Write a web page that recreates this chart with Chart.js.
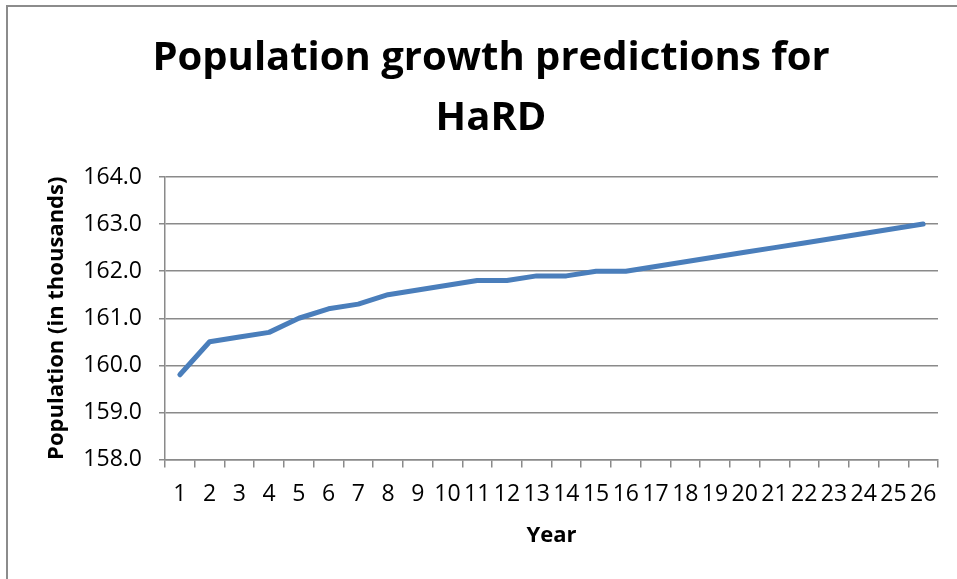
<!DOCTYPE html>
<html>
<head>
<meta charset="utf-8">
<script src="https://cdn.jsdelivr.net/npm/chart.js@4"></script>
<style>
  body { margin: 0; background: #fff; }
  .frame { position: absolute; left: 6px; top: 5px; width: 1000px; height: 700px;
           border-top: 2px solid #8c8c8c; border-left: 2px solid #8c8c8c; }
  .wrap { position: absolute; left: 0; top: 0; width: 957px; height: 579px; }
</style>
</head>
<body>
<div class="frame"></div>
<div class="wrap"><canvas id="popChart" width="957" height="579"></canvas></div>
<script>
// years 1..26
const years = ['1','2','3','4','5','6','7','8','9','10','11','12','13',
  '14','15','16','17','18','19','20','21','22','23','24','25','26'];
// population in thousands
const population = [159.8, 160.5, 160.6, 160.7, 161.0, 161.2, 161.3, 161.5, 161.6,
  161.7, 161.8, 161.8, 161.9, 161.9, 162.0, 162.0, 162.1, 162.2, 162.3, 162.4,
  162.5, 162.6, 162.7, 162.8, 162.9, 163.0];
const titleLines = ['Population growth predictions for', 'HaRD'];

const gridCol = '#8a8a8a';
const tickFont = { family: 'Open Sans', size: 23 };

const ctx = document.getElementById('popChart').getContext('2d');
const chart = new Chart(ctx, {
  type: 'line',
  data: {
    labels: years,
    datasets: [{
      label: 'Population',
      data: population,
      borderColor: '#4A7EBB',
      borderWidth: 5,
      borderCapStyle: 'round',
      borderJoinStyle: 'round',
      pointRadius: 0,
      tension: 0,
      fill: false
    }]
  },
  options: {
    responsive: false,
    animation: false,
    layout: { padding: { left: 44, right: 19, top: 0, bottom: 26 } },
    plugins: {
      legend: { display: false },
      tooltip: { enabled: false },
      title: {
        display: true,
        text: titleLines,
        color: '#000',
        font: { family: 'Open Sans', size: 40, weight: 'bold', lineHeight: 1.5 },
        padding: { top: 29, bottom: 28 }
      }
    },
    scales: {
      x: {
        offset: true,
        grid: { offset: true, drawOnChartArea: false, drawTicks: true, tickLength: 8, color: gridCol, lineWidth: 1.5 },
        border: { color: gridCol, width: 1.5 },
        ticks: { color: '#000', font: tickFont, autoSkip: false, maxRotation: 0, padding: 13 },
        title: { display: true, text: 'Year', color: '#000',
          font: { family: 'Open Sans', size: 22, weight: 'bold' }, padding: { top: 4, bottom: 4 } },
        afterFit: s => { s.height = 93.5; }
      },
      y: {
        min: 158,
        max: 164,
        grid: { color: gridCol, lineWidth: 1.5, tickLength: 6 },
        border: { color: gridCol, width: 1.5 },
        ticks: { stepSize: 1, color: '#000', font: tickFont, padding: 17,
          callback: v => Number(v).toFixed(1) },
        title: { display: true, text: 'Population (in thousands)', color: '#000',
          font: { family: 'Open Sans', size: 22, weight: 'bold' }, padding: { top: 0, bottom: 4 } },
        afterFit: s => { s.width = 121; }
      }
    }
  }
});
</script>
</body>
</html>
